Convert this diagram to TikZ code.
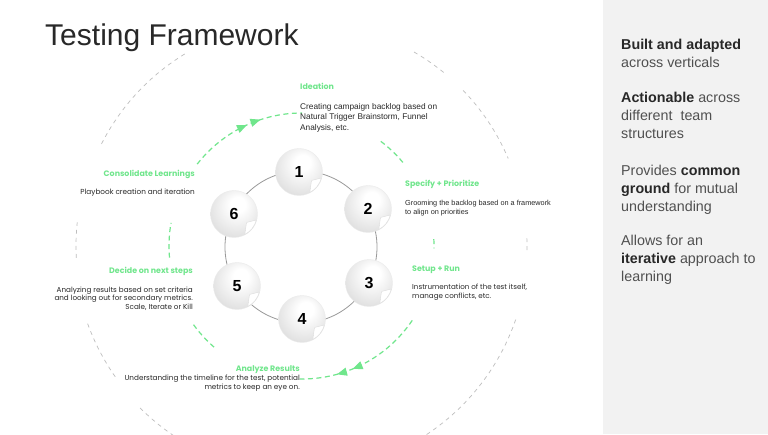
\documentclass[tikz,border=0pt]{standalone}
\usepackage{fontspec}
\setmainfont{Liberation Sans}
\newfontfamily\geo{Poppins}
\usetikzlibrary{arrows.meta,decorations.markings,calc}
\definecolor{lgreen}{RGB}{112,230,140}
\definecolor{panel}{RGB}{242,242,242}
\definecolor{txt}{RGB}{80,80,80}
\definecolor{dtxt}{RGB}{40,40,40}
\definecolor{ogrey}{RGB}{190,190,190}
\pgfdeclareradialshading{ballshade}{\pgfpoint{5bp}{12bp}}{color(0bp)=(white); color(8bp)=(white); color(30bp)=(black!12); color(46bp)=(black!21); color(50bp)=(black!12)}
\begin{document}
\begin{tikzpicture}[x=1pt,y=1pt,
  ball/.style={circle, minimum size=47pt, inner sep=0, shading=ballshade, draw=black!8, line width=0.4pt, font=\fontsize{16}{16}\selectfont\bfseries, text=black},
  ringline/.style={draw=black!40, line width=0.8pt},
  gdash/.style={draw=lgreen, line width=1.2pt, dash pattern=on 5pt off 3.5pt},
  odash/.style={draw=ogrey, line width=0.7pt, dash pattern=on 4pt off 4pt},
  hdr/.style={text=lgreen, font=\geo\bfseries\fontsize{7.9}{9}\selectfont, inner sep=0},
  gdesc/.style={text=dtxt, inner sep=0},
  rdesc/.style={text=dtxt, inner sep=0},
  ptext/.style={text=txt, inner sep=0, anchor=base west},
  curl/.style={fill=white, draw=black!15, line width=0.35pt}
]
\useasboundingbox (0,0) rectangle (768,434);
\fill[white] (0,0) rectangle (768,434);
\fill[panel] (603,0) rectangle (768,434);

\coordinate (C) at (302,188);

% outer grey dashed arcs
\begin{scope}
\clip (0,0) rectangle (603,434);
\draw[odash] ($(C)+(153:225)$) arc[start angle=153, end angle=121, radius=225];
\draw[odash] ($(C)+(183:226)$) arc[start angle=183, end angle=174, radius=226];
\draw[odash] ($(C)+(215:228)$) arc[start angle=215, end angle=199.5, radius=228];
\draw[odash] ($(C)+(242:229)$) arc[start angle=242, end angle=225, radius=229];
\draw[odash] ($(C)+(60:224)$) arc[start angle=60, end angle=50, radius=224];
\draw[odash] ($(C)+(44:224)$) arc[start angle=44, end angle=23, radius=224];
\draw[odash] ($(C)+(2:225)$) arc[start angle=2, end angle=-1.5, radius=225];
\draw[odash] ($(C)+(-19:226)$) arc[start angle=-19, end angle=-62, radius=226];
\end{scope}

% green dashed arcs
\draw[gdash, postaction={decorate}, decoration={markings,
   mark=at position 0.53 with {\arrow[lgreen]{Triangle[length=10pt,width=8pt]}},
   mark=at position 0.65 with {\arrow[lgreen]{Triangle[length=10pt,width=8pt]}}}]
   ($(C)+(142:133)$) arc[start angle=142, end angle=90, radius=133];
\draw[gdash] ($(C)+(53:131)$) arc[start angle=53, end angle=39, radius=131];
\draw[gdash] ($(C)+(3:132)$) arc[start angle=3, end angle=-1, radius=132];
\draw[gdash, postaction={decorate}, decoration={markings,
   mark=at position 0.59 with {\arrow[lgreen]{Triangle[length=10pt,width=8pt]}},
   mark=at position 0.715 with {\arrow[lgreen]{Triangle[length=10pt,width=8pt]}}}]
   ($(C)+(-34:133)$) arc[start angle=-34, end angle=-91, radius=133];
\draw[gdash] ($(C)+(229:134)$) arc[start angle=229, end angle=215, radius=134];
\draw[gdash] ($(C)+(185:133)$) arc[start angle=185, end angle=170, radius=133];

% ring
\draw[ringline] (301,187) circle[radius=76];

% balls
\foreach \n/\x/\y in {1/299/262, 2/368/225, 3/369/151, 4/302/115, 5/237/148, 6/234/220}{
  \node[ball] (b\n) at (\x,\y) {\n};
  \path[curl] ($(b\n.center)+(22.3,-6)$) -- ($(b\n.center)+(12.5,-8.5)$) -- ($(b\n.center)+(10.8,-20.5)$) arc[start angle=-62, end angle=-15, radius=23.5];
}

% step labels
\node[hdr, anchor=base west] (h1) at (300,344) {Ideation};
\node[gdesc, anchor=base west] (d1) at (300,324.7) {\parbox[t]{170pt}{\fontsize{8.3}{10.5}\selectfont\raggedright Creating campaign backlog based on\\Natural Trigger Brainstorm, Funnel\\Analysis, etc.}};

\node[hdr, anchor=base west] (h2) at (405,247) {Specify + Prioritize};
\node[gdesc, anchor=base west] (d2) at (405,228.3) {\parbox[t]{170pt}{\fontsize{7.3}{8.6}\selectfont\raggedright Grooming the backlog based on a framework\\to align on priorities}};

\node[hdr, anchor=base west] (h3) at (412,162) {Setup + Run};
\node[rdesc, anchor=base west] (d3) at (412,144) {\parbox[t]{170pt}{\geo\fontsize{7.15}{8.4}\selectfont\raggedright Instrumentation of the test itself,\\manage conflicts, etc.}};

\node[hdr, anchor=base east] (h4) at (300,63) {Analyze Results};
\node[rdesc, anchor=base east] (d4) at (300,53.3) {\parbox[t]{220pt}{\geo\fontsize{7.25}{8.6}\selectfont\raggedleft Understanding the timeline for the test, potential\\metrics to keep an eye on.}};

\node[hdr, anchor=base east] (h5) at (193,160) {Decide on next steps};
\node[rdesc, anchor=base east] (d5) at (193,141.3) {\parbox[t]{180pt}{\geo\fontsize{7.2}{8.3}\selectfont\raggedleft Analyzing results based on set criteria\\and looking out for secondary metrics.\\Scale, Iterate or Kill}};

\node[hdr, anchor=base east] (h6) at (195,257.3) {Consolidate Learnings};
\node[rdesc, anchor=base east] (d6) at (195,239) {\parbox[t]{170pt}{\geo\fontsize{7.3}{8.3}\selectfont\raggedleft Playbook creation and iteration}};

% title
\node[anchor=base west, inner sep=0, text=dtxt, font=\fontsize{30}{30}\selectfont] (title) at (45,388) {Testing Framework};

% right panel
\node[ptext] (p1) at (621,384) {\parbox[t]{145pt}{\fontsize{14.3}{18}\selectfont\raggedright \textcolor{dtxt}{\bfseries Built and adapted}\\across verticals}};
\node[ptext] (p2) at (621,331) {\parbox[t]{145pt}{\fontsize{14.3}{18}\selectfont\raggedright \textcolor{dtxt}{\bfseries Actionable} across\\different~ team\\structures}};
\node[ptext] (p3) at (621,258) {\parbox[t]{145pt}{\fontsize{14.3}{18}\selectfont\raggedright Provides \textcolor{dtxt}{\bfseries common}\\\textcolor{dtxt}{\bfseries ground} for mutual\\understanding}};
\node[ptext] (p4) at (621,188) {\parbox[t]{145pt}{\fontsize{14.3}{18}\selectfont\raggedright Allows for an\\\textcolor{dtxt}{\bfseries iterative} approach to\\learning}};
\end{tikzpicture}
\end{document}
